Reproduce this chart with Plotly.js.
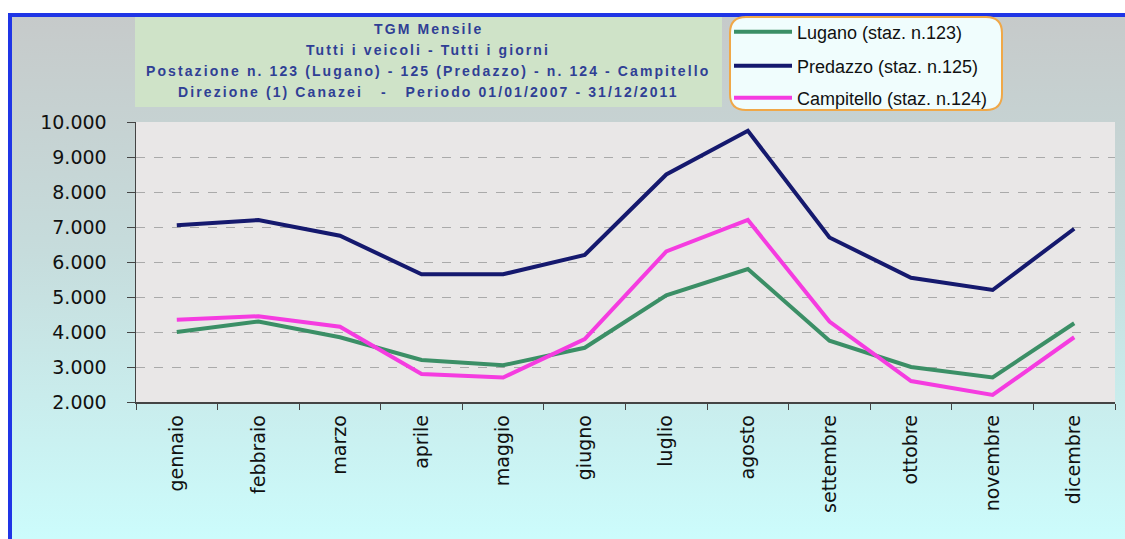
<!DOCTYPE html>
<html>
<head>
<meta charset="utf-8">
<script src="https://cdn.plot.ly/plotly-3.0.1.min.js"></script>
<style>
  html, body { margin: 0; padding: 0; background: #ffffff; }
  #wrap { position: relative; width: 1125px; height: 539px; overflow: hidden; }
  #bg { position: absolute; left: 8px; top: 13px; right: 0; bottom: 0;
        border-left: 4px solid #1f35e6; border-top: 4px solid #1f35e6;
        background: linear-gradient(to bottom, #c6caca 0%, #c6dcdc 45%, #ccfcfc 100%); }
  #chart { position: absolute; left: 0; top: 0; width: 1125px; height: 539px; }
  .annotation-text { letter-spacing: 2.1px; }
</style>
</head>
<body>
<div id="wrap">
  <div id="bg"></div>
  <div id="chart"></div>
</div>
<script>
const months = ['gennaio','febbraio','marzo','aprile','maggio','giugno','luglio','agosto','settembre','ottobre','novembre','dicembre'];
const lugano = [4000, 4300, 3850, 3200, 3050, 3550, 5050, 5800, 3750, 3000, 2700, 4250];
const predazzo = [7050, 7200, 6750, 5650, 5650, 6200, 8500, 9750, 6700, 5550, 5200, 6950];
const campitello = [4350, 4450, 4150, 2800, 2700, 3800, 6300, 7200, 4300, 2600, 2200, 3850];
const seriesNames = ['Lugano (staz. n.123)', 'Predazzo (staz. n.125)', 'Campitello (staz. n.124)'];
const titleLines = [
  'TGM Mensile',
  'Tutti i veicoli - Tutti i giorni',
  'Postazione n. 123 (Lugano) - 125 (Predazzo) - n. 124 - Campitello',
  'Direzione (1) Canazei   -   Periodo 01/01/2007 - 31/12/2011'
];

// pixel -> paper helpers (plot area: x 136..1115, y 122..402)
const L = 136, R = 1115, T = 122, B = 402;
const px = x => (x - L) / (R - L);
const py = y => (B - y) / (B - T);

const traces = [
  {x: months, y: lugano, name: seriesNames[0], type: 'scatter', mode: 'lines',
   line: {color: '#3b8f66', width: 4}, legend: 'legend'},
  {x: months, y: predazzo, name: seriesNames[1], type: 'scatter', mode: 'lines',
   line: {color: '#15196e', width: 4}, legend: 'legend2'},
  {x: months, y: campitello, name: seriesNames[2], type: 'scatter', mode: 'lines',
   line: {color: '#f53ce0', width: 4}, legend: 'legend3'}
];

const titleY = [29, 50, 71, 92];
const annotations = titleLines.map((t, i) => ({
  xref: 'paper', yref: 'paper', x: px(428), y: py(titleY[i]),
  xanchor: 'center', yanchor: 'middle', showarrow: false,
  text: '<b>' + t + '</b>',
  font: {family: 'Liberation Sans, Arial, sans-serif', size: 14, color: '#2f3f95'}
}));

// rounded legend box path
function roundRect(x0, y0, x1, y1, r) {
  const X = v => px(v), Y = v => py(v);
  return 'M' + X(x0 + r) + ',' + Y(y0) +
    ' L' + X(x1 - r) + ',' + Y(y0) +
    ' Q' + X(x1) + ',' + Y(y0) + ' ' + X(x1) + ',' + Y(y0 + r) +
    ' L' + X(x1) + ',' + Y(y1 - r) +
    ' Q' + X(x1) + ',' + Y(y1) + ' ' + X(x1 - r) + ',' + Y(y1) +
    ' L' + X(x0 + r) + ',' + Y(y1) +
    ' Q' + X(x0) + ',' + Y(y1) + ' ' + X(x0) + ',' + Y(y1 - r) +
    ' L' + X(x0) + ',' + Y(y0 + r) +
    ' Q' + X(x0) + ',' + Y(y0) + ' ' + X(x0 + r) + ',' + Y(y0) + ' Z';
}

const shapes = [
  {type: 'rect', xref: 'paper', yref: 'paper', x0: px(135), x1: px(722), y0: py(107), y1: py(17),
   fillcolor: '#cfe3c8', line: {width: 0}, layer: 'below'},
  {type: 'path', xref: 'paper', yref: 'paper', path: roundRect(730, 17, 1002, 110, 16),
   fillcolor: '#f0fdfd', line: {color: '#f0a848', width: 2}, layer: 'below'}
];

const legFont = {family: 'Liberation Sans, Arial, sans-serif', size: 18, color: '#111111'};
const legBase = {xref: 'paper', yref: 'paper', xanchor: 'left', yanchor: 'middle',
  bgcolor: 'rgba(0,0,0,0)', borderwidth: 0, font: legFont, itemwidth: 58, itemclick: false, itemdoubleclick: false};

const layout = {
  width: 1125, height: 539,
  margin: {l: L, r: 1125 - R, t: T, b: 539 - B, pad: 0},
  paper_bgcolor: 'rgba(0,0,0,0)',
  plot_bgcolor: '#e9e7e7',
  separators: ',.',
  showlegend: true,
  legend: Object.assign({}, legBase, {x: px(729), y: py(32)}),
  legend2: Object.assign({}, legBase, {x: px(729), y: py(66)}),
  legend3: Object.assign({}, legBase, {x: px(729), y: py(98)}),
  xaxis: {
    type: 'category', showgrid: false, showline: true, linecolor: '#444444', linewidth: 1.5,
    ticks: 'outside', ticklen: 6, tickcolor: '#444444', tickson: 'boundaries',
    tickangle: -90, ticklabelstandoff: 4,
    tickfont: {family: 'DejaVu Sans, Verdana, sans-serif', size: 19, color: '#111111'},
    range: [-0.5, 11.5], fixedrange: true
  },
  yaxis: {
    range: [2000, 10000], dtick: 1000, tick0: 2000, tickformat: ',d',
    showgrid: true, gridcolor: '#aaaaaa', griddash: 'dash', gridwidth: 1,
    showline: true, linecolor: '#444444', linewidth: 1.5, zeroline: false,
    ticks: 'outside', ticklen: 8, tickcolor: '#444444', ticklabelstandoff: 16,
    tickfont: {family: 'DejaVu Sans, Verdana, sans-serif', size: 19, color: '#111111'},
    fixedrange: true
  },
  annotations: annotations,
  shapes: shapes
};

Plotly.newPlot('chart', traces, layout, {displayModeBar: false, staticPlot: true});
</script>
</body>
</html>
